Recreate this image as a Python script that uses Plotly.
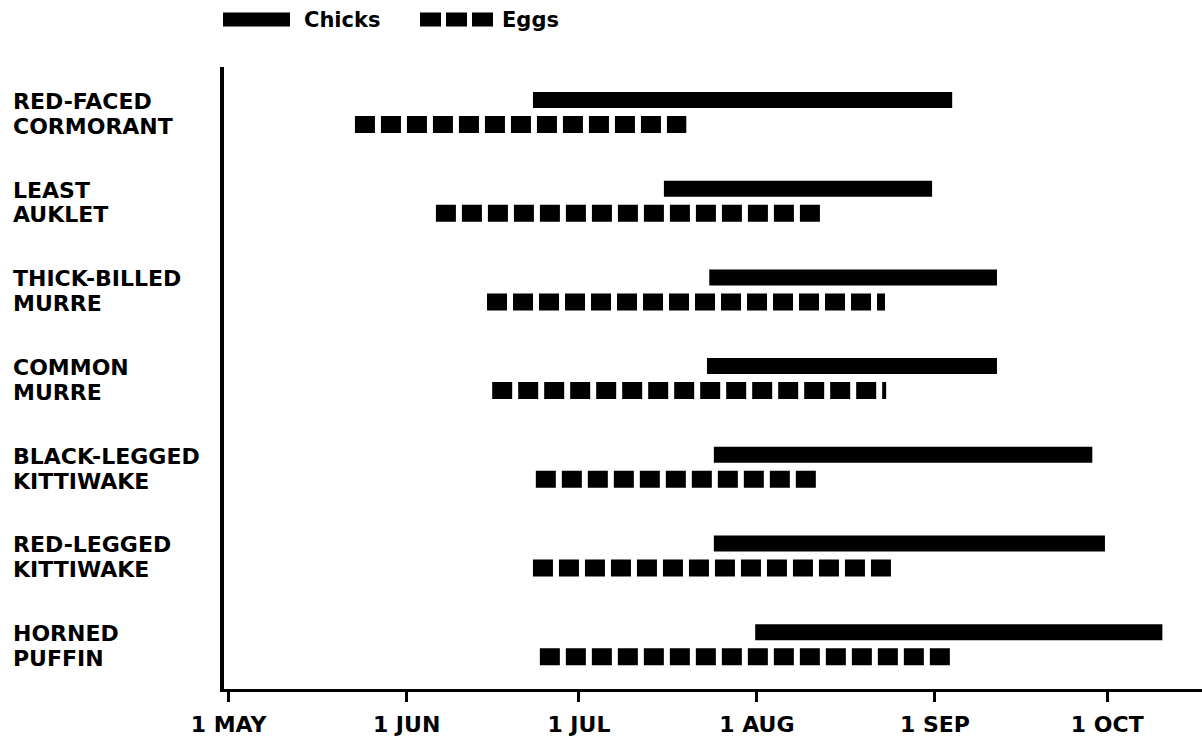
import plotly.graph_objects as go

# Breeding chronology of seabirds: days counted from 1 May
species = [
    ("RED-FACED", "CORMORANT"),
    ("LEAST", "AUKLET"),
    ("THICK-BILLED", "MURRE"),
    ("COMMON", "MURRE"),
    ("BLACK-LEGGED", "KITTIWAKE"),
    ("RED-LEGGED", "KITTIWAKE"),
    ("HORNED", "PUFFIN"),
]
chicks_start = [53.0, 75.8, 83.7, 83.3, 84.5, 84.5, 91.7]
chicks_end = [126.0, 122.5, 133.8, 133.8, 150.4, 152.6, 162.6]
eggs_start = [22.0, 36.1, 45.0, 45.9, 53.5, 53.0, 54.2]
eggs_end = [79.7, 103.3, 114.3, 114.5, 103.0, 115.4, 126.2]

tick_days = [0, 31, 61, 92, 123, 153]
tick_labels = ["1 MAY", "1 JUN", "1 JUL", "1 AUG", "1 SEP", "1 OCT"]

EGG_OFFSET = 0.276
FONT = "DejaVu Sans"

W, H = 1202, 736
ML, MR, MT, MB = 224, 0, 67, 47
PW, PH = W - ML - MR, H - MT - MB


def px_x(px):
    return (px - ML) / PW


def px_y(py):
    return (H - MB - py) / PH


label_font = dict(family=FONT, size=22, color="black", weight="bold")

fig = go.Figure()

for i, (line1, line2) in enumerate(species):
    fig.add_trace(go.Scatter(
        x=[chicks_start[i], chicks_end[i]], y=[i, i],
        mode="lines", line=dict(color="black", width=16),
        showlegend=False, hoverinfo="skip",
    ))
    fig.add_trace(go.Scatter(
        x=[eggs_start[i], eggs_end[i]], y=[i + EGG_OFFSET, i + EGG_OFFSET],
        mode="lines", line=dict(color="black", width=17, dash="20px,6px"),
        showlegend=False, hoverinfo="skip",
    ))
    # species name: first word beside the chick bar, second beside the eggs
    for text, yv in [(line1, i + 0.015), (line2, i + EGG_OFFSET + 0.02)]:
        fig.add_annotation(
            x=px_x(11), xref="paper", xanchor="left",
            y=yv, yref="y", yanchor="middle",
            text=text, showarrow=False, align="left",
            font=label_font,
        )

# Legend drawn above the plot
legend_y = px_y(19.5)
fig.add_shape(type="line", xref="paper", yref="paper",
              x0=px_x(223), x1=px_x(290), y0=legend_y, y1=legend_y,
              line=dict(color="black", width=14))
fig.add_shape(type="line", xref="paper", yref="paper",
              x0=px_x(420), x1=px_x(493), y0=legend_y, y1=legend_y,
              line=dict(color="black", width=14, dash="21px,5px"))
for label, xpos in [("Chicks", 302), ("Eggs", 500)]:
    fig.add_annotation(
        x=px_x(xpos), xref="paper", xanchor="left",
        y=legend_y, yref="paper", yanchor="middle",
        text=label, showarrow=False,
        font=dict(family=FONT, size=21, color="black", weight="bold"),
    )

fig.update_layout(
    width=W, height=H,
    margin=dict(l=ML, r=MR, t=MT, b=MB),
    paper_bgcolor="white", plot_bgcolor="white",
    showlegend=False,
    xaxis=dict(
        range=[-0.8, 169.5], tickmode="array",
        tickvals=tick_days, ticktext=tick_labels,
        showgrid=False, zeroline=False,
        showline=True, linecolor="black", linewidth=3,
        ticks="outside", ticklen=10, tickwidth=3, tickcolor="black",
        ticklabelstandoff=4,
        tickfont=dict(family=FONT, size=22, color="black", weight="bold"),
    ),
    yaxis=dict(
        range=[6.640, -0.372], showticklabels=False,
        showgrid=False, zeroline=False,
        showline=True, linecolor="black", linewidth=4,
        ticks="",
    ),
)

fig.write_html("out.html")
